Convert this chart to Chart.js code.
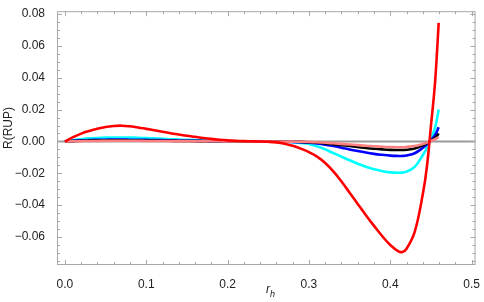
<!DOCTYPE html>
<html>
<head>
<meta charset="utf-8">
<script src="https://cdn.jsdelivr.net/npm/chart.js@4.4.1/dist/chart.umd.min.js"></script>
<style>
  html, body { margin: 0; padding: 0; background: #fff; }
  #chart { display: block; }
</style>
</head>
<body>
<canvas id="chart" width="484" height="302"></canvas>
<script>
// r_h sample points shared by all curves
const rh = [
  0.00, 0.01, 0.02, 0.03, 0.04, 0.05, 0.06, 0.07, 0.08, 0.09,
  0.10, 0.11, 0.12, 0.13, 0.14, 0.15, 0.16, 0.17, 0.18, 0.19,
  0.20, 0.21, 0.22, 0.23, 0.24, 0.25, 0.26, 0.27, 0.28, 0.29,
  0.30, 0.31, 0.32, 0.33, 0.34, 0.35, 0.36, 0.37, 0.38, 0.39,
  0.40, 0.41,
  0.415, 0.42, 0.43, 0.44, 0.445, 0.45, 0.455, 0.4595,
]

const redVals = [
  0, 0.0027, 0.0049, 0.0066, 0.0080, 0.0091, 0.0097, 0.0099, 0.0095, 0.0088,
  0.0079, 0.0070, 0.0061, 0.0052, 0.0044, 0.0036, 0.0029, 0.0022, 0.0016, 0.0011,
  0.0007, 0.0004, 0.0002, 0.0001, 0.0000, -0.0002, -0.0006, -0.0014, -0.0027, -0.0045,
  -0.0067, -0.0095, -0.0135, -0.0188, -0.0252, -0.0322, -0.0393, -0.0463, -0.0530, -0.0594,
  -0.0650, -0.0690,
  -0.0694, -0.0674, -0.0568, -0.0330, -0.0160, 0.0100, 0.0370, 0.0745,
]
const cyanVals = [
  0, 0.0008, 0.0014, 0.0019, 0.0022, 0.0024, 0.0025, 0.0025, 0.0024, 0.0023,
  0.0021, 0.0019, 0.0017, 0.0014, 0.0012, 0.0010, 0.0008, 0.0006, 0.0005, 0.0003,
  0.0002, 0.0001, 0.0001, 0, 0, -0.0001, -0.0001, -0.0002, -0.0005, -0.0010,
  -0.0016, -0.0030, -0.0050, -0.0073, -0.0096, -0.0118, -0.0140, -0.0159, -0.0175, -0.0186,
  -0.0194, -0.0197,
  -0.0196, -0.0190, -0.0160, -0.0085, -0.0040, 0.0020, 0.0085, 0.0200,
]
const blueVals = [
  0, 0.0004, 0.0007, 0.0009, 0.0010, 0.0011, 0.0012, 0.0012, 0.0011, 0.0011,
  0.0010, 0.0009, 0.0008, 0.0007, 0.0006, 0.0005, 0.0004, 0.0003, 0.0002, 0.0002,
  0.0001, 0.0001, 0, 0, 0, 0, -0.0001, -0.0002, -0.0003, -0.0005,
  -0.0008, -0.0013, -0.0020, -0.0029, -0.0039, -0.0050, -0.0060, -0.0070, -0.0078, -0.0084,
  -0.0089, -0.0091,
  -0.0091, -0.0088, -0.0074, -0.0040, -0.0018, 0.0010, 0.0040, 0.0089,
]
const blackVals = [
  0, 0.0002, 0.0004, 0.0005, 0.0006, 0.0006, 0.0007, 0.0007, 0.0006, 0.0006,
  0.0005, 0.0005, 0.0004, 0.0004, 0.0003, 0.0003, 0.0002, 0.0002, 0.0001, 0.0001,
  0.0001, 0, 0, 0, 0, 0, -0.0001, -0.0001, -0.0002, -0.0003,
  -0.0005, -0.0008, -0.0012, -0.0017, -0.0023, -0.0029, -0.0035, -0.0041, -0.0046, -0.0050,
  -0.0053, -0.0054,
  -0.0054, -0.0052, -0.0044, -0.0024, -0.0011, 0.0006, 0.0022, 0.0050,
]
const pinkVals = [
  0, 0.0001, 0.0002, 0.0003, 0.0003, 0.0004, 0.0004, 0.0004, 0.0004, 0.0004,
  0.0003, 0.0003, 0.0003, 0.0002, 0.0002, 0.0002, 0.0001, 0.0001, 0.0001, 0.0001,
  0, 0, 0, 0, 0, 0, 0, -0.0001, -0.0001, -0.0002,
  -0.0003, -0.0005, -0.0008, -0.0011, -0.0015, -0.0019, -0.0023, -0.0027, -0.0030, -0.0033,
  -0.0035, -0.0036,
  -0.0036, -0.0034, -0.0029, -0.0016, -0.0007, 0.0004, 0.0014, 0.0028,
]

const xTicks = [0, 0.1, 0.2, 0.3, 0.4, 0.5]
const yTicks = [-0.06, -0.04, -0.02, 0, 0.02, 0.04, 0.06, 0.08]
const xRange = [-0.0097, 0.5048]
const yRange = [-0.0776, 0.0818]

const pts = (vals) => rh.map((x, i) => ({ x, y: vals[i] }))

const line = (label, vals, color, order) => ({
  label,
  data: pts(vals),
  borderColor: color,
  borderWidth: 2.6,
  pointRadius: 0,
  tension: 0.4,
  order,
})

const fmtY = (v) => {
  const s = Math.abs(v).toFixed(2)
  return v < -1e-9 ? '\u2212' + s : s
}

// frame with inward major/minor ticks, axis titles
const framePlugin = {
  id: 'frame',
  afterDatasetsDraw(chart) {
    const { ctx, chartArea: a, scales } = chart
    const xs = scales.x
    const ys = scales.y
    ctx.save()
    ctx.strokeStyle = '#a8a8a8'
    ctx.lineWidth = 1
    ctx.strokeRect(a.left + 0.5, a.top + 0.5, a.right - a.left - 1, a.bottom - a.top - 1)
    ctx.beginPath()
    for (let i = 0; i <= 25; i++) {
      const px = Math.round(xs.getPixelForValue(i * 0.02)) + 0.5
      const len = i % 5 === 0 ? 5 : 3
      ctx.moveTo(px, a.bottom); ctx.lineTo(px, a.bottom - len)
      ctx.moveTo(px, a.top); ctx.lineTo(px, a.top + len)
    }
    for (let i = -15; i <= 16; i++) {
      const v = i * 0.005
      if (v < yRange[0] || v > yRange[1]) continue
      const py = Math.round(ys.getPixelForValue(v)) + 0.5
      const len = i % 4 === 0 ? 5 : 3
      ctx.moveTo(a.left, py); ctx.lineTo(a.left + len, py)
      ctx.moveTo(a.right, py); ctx.lineTo(a.right - len, py)
    }
    ctx.stroke()

    ctx.fillStyle = '#222'
    ctx.font = '12px "Liberation Sans", Arial, sans-serif'
    ctx.textAlign = 'center'
    ctx.textBaseline = 'middle'
    ctx.save()
    ctx.translate(9, 128)
    ctx.rotate(-Math.PI / 2)
    ctx.fillText('R(RUP)', 0, 0)
    ctx.restore()

    ctx.font = 'italic 12px "Liberation Sans", Arial, sans-serif'
    ctx.textAlign = 'left'
    ctx.fillText('r', 266, 290)
    ctx.font = 'italic 9px "Liberation Sans", Arial, sans-serif'
    ctx.fillText('h', 270, 294)
    ctx.restore()
  },
}

new Chart(document.getElementById('chart'), {
  type: 'line',
  data: {
    datasets: [
      line('red', redVals, '#ff0000', 1),
      line('pink', pinkVals, '#ff8080', 2),
      line('black', blackVals, '#000000', 3),
      line('blue', blueVals, '#0000ff', 4),
      line('cyan', cyanVals, '#00ffff', 5),
      {
        label: 'zero',
        data: [{ x: xRange[0], y: 0 }, { x: xRange[1], y: 0 }],
        borderColor: '#999999',
        borderWidth: 2,
        pointRadius: 0,
        order: 6,
      },
    ],
  },
  options: {
    responsive: false,
    animation: false,
    layout: { padding: { top: 2, right: 2, left: 0, bottom: 0 } },
    plugins: { legend: { display: false }, tooltip: { enabled: false } },
    scales: {
      x: {
        type: 'linear',
        min: xRange[0],
        max: xRange[1],
        grid: { display: false },
        border: { display: false },
        afterBuildTicks: (s) => { s.ticks = xTicks.map((v) => ({ value: v })) },
        afterFit: (s) => { s.height = 37 },
        ticks: {
          maxRotation: 0,
          padding: 4,
          color: '#222',
          font: { family: '"Liberation Sans", Arial, sans-serif', size: 12 },
          callback: (v) => v.toFixed(1),
        },
      },
      y: {
        type: 'linear',
        min: yRange[0],
        max: yRange[1],
        grid: { display: false },
        border: { display: false },
        afterBuildTicks: (s) => { s.ticks = yTicks.map((v) => ({ value: v })) },
        afterFit: (s) => { s.width = 57 },
        ticks: {
          padding: 4,
          color: '#222',
          font: { family: '"Liberation Sans", Arial, sans-serif', size: 12 },
          callback: (v) => fmtY(v),
        },
      },
    },
  },
  plugins: [framePlugin],
})
</script>
</body>
</html>
